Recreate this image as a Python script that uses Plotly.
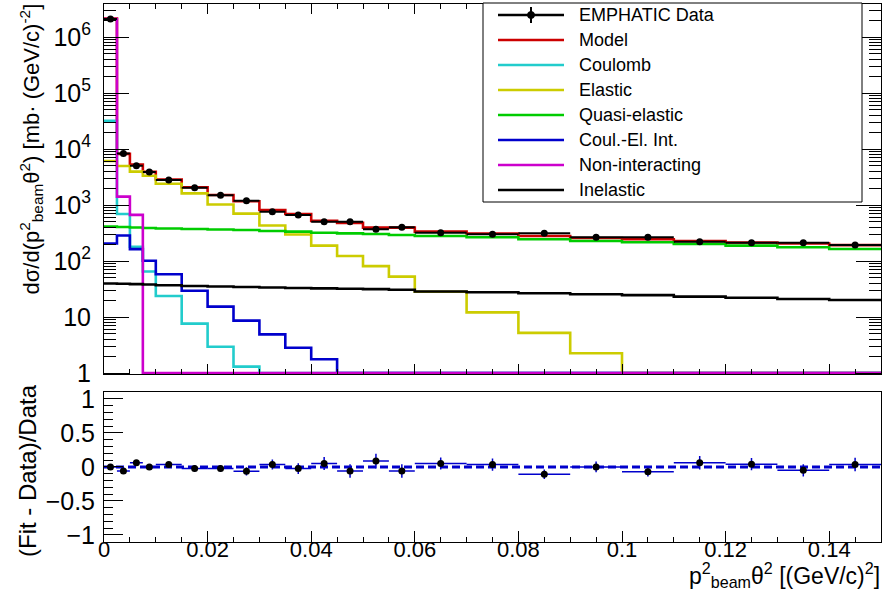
import plotly.graph_objects as go

# ---------------- data ----------------
bin_edges = [0, 0.0025, 0.005, 0.0075, 0.01, 0.015, 0.02, 0.025, 0.03, 0.035, 0.04,
             0.045, 0.05, 0.055, 0.06, 0.07, 0.08, 0.09, 0.10, 0.11, 0.12, 0.13, 0.14, 0.15]

data_vals = [2.1e6, 8300, 5000, 3900, 2800, 2040, 1500, 1190, 760, 662, 504, 504,
             368, 401, 320, 300, 312, 265, 265, 221, 212, 212, 193]
data_err = [3e4, 160, 130, 110, 90, 80, 70, 65, 55, 50, 45, 45, 38, 38, 28, 27,
            25, 22, 20, 20, 18, 18, 18]

model = [2.14e6, 8200, 5300, 3900, 2850, 2080, 1510, 1170, 815, 690, 520, 480,
         395, 395, 335, 310, 280, 258, 245, 228, 214, 205, 192]
coulomb = [32000, 690, 180, 65, 23.7, 7.6, 2.95, 1.3, 1, 1, 1, 1, 1, 1, 1, 1,
           1, 1, 1, 1, 1, 1, 1]
elastic = [6100, 4970, 3950, 3330, 2400, 1610, 1020, 700, 430, 297, 188, 123,
           81, 52.5, 28.3, 12.1, 5.2, 2.25, 1, 1, 1, 1, 1]
quasi_elastic = [413, 405, 397, 388, 380, 373, 365, 358, 344, 334, 320, 312,
                 304, 291, 280, 265, 244, 228, 216, 201, 188, 176, 164]
coul_el_int = [205, 285, 163, 101, 58, 29.5, 15.3, 8.6, 4.9, 2.83, 1.76, 1, 1,
               1, 1, 1, 1, 1, 1, 1, 1, 1, 1]
non_interacting = [2.1e6, 1410, 665, 1, 1, 1, 1, 1, 1, 1, 1, 1, 1, 1, 1, 1, 1,
                   1, 1, 1, 1, 1, 1]
inelastic = [39.7, 39.2, 38.6, 38.0, 36.8, 35.8, 35.1, 34.3, 33.6, 33.0, 32.5,
             32.0, 31.4, 30.7, 28.5, 27.6, 26.5, 25.5, 24.6, 23.1, 22.1, 21.0, 20.1]

ratio = [0.0, -0.06, 0.06, 0.0, 0.035, -0.025, -0.025, -0.065, 0.035, -0.025,
         0.05, -0.06, 0.085, -0.06, 0.05, 0.035, -0.107, 0.0, -0.073, 0.06,
         0.04, -0.05, 0.035]
ratio_err = [0.01, 0.02, 0.025, 0.03, 0.035, 0.045, 0.05, 0.06, 0.075, 0.08,
             0.095, 0.1, 0.11, 0.1, 0.09, 0.09, 0.07, 0.08, 0.07, 0.1, 0.09,
             0.09, 0.1]

series_names = ["Model", "Coulomb", "Elastic", "Quasi-elastic", "Coul.-El. Int.",
                "Non-interacting", "Inelastic"]
series_vals = [model, coulomb, elastic, quasi_elastic, coul_el_int,
               non_interacting, inelastic]
series_colors = ["#cc0000", "#22cccc", "#cccc00", "#00cc00", "#0000cc",
                 "#cc00cc", "#000000"]

y_tick_vals = [1, 10, 100, 1e3, 1e4, 1e5, 1e6]
y_tick_text = ["1", "10", "10<sup>2</sup>", "10<sup>3</sup>", "10<sup>4</sup>",
               "10<sup>5</sup>", "10<sup>6</sup>"]
x_tick_vals = [0, 0.02, 0.04, 0.06, 0.08, 0.10, 0.12, 0.14]
x_tick_text = ["0", "0.02", "0.04", "0.06", "0.08", "0.1", "0.12", "0.14"]
r_tick_vals = [-1, -0.5, 0, 0.5, 1]
r_tick_text = ["\u22121", "\u22120.5", "0", "0.5", "1"]

# ---------------- helpers ----------------
W, H = 887, 600
FONT = "Liberation Sans, Arial, Helvetica, sans-serif"


def px(x):
    return x / W


def py(y):
    return 1 - y / H


centers = [(bin_edges[i] + bin_edges[i + 1]) / 2 for i in range(len(bin_edges) - 1)]
half_w = [(bin_edges[i + 1] - bin_edges[i]) / 2 for i in range(len(bin_edges) - 1)]

fig = go.Figure()

# step histograms
for name, vals, col in zip(series_names, series_vals, series_colors):
    fig.add_trace(go.Scatter(
        x=list(bin_edges), y=list(vals) + [vals[-1]], mode="lines",
        line=dict(color=col, width=2.6, shape="hv"), name=name,
        showlegend=False, xaxis="x", yaxis="y"))

# data points
fig.add_trace(go.Scatter(
    x=centers, y=data_vals, mode="markers", name="EMPHATIC Data",
    marker=dict(color="black", size=7),
    error_x=dict(type="data", array=half_w, color="black", thickness=2, width=0),
    error_y=dict(type="data", array=data_err, color="black", thickness=2, width=0),
    showlegend=False, xaxis="x", yaxis="y"))

# ratio points
fig.add_trace(go.Scatter(
    x=centers, y=ratio, mode="markers", name="(Fit - Data)/Data",
    marker=dict(color="black", size=7),
    error_x=dict(type="data", array=half_w, color="#0000cc", thickness=1.5, width=0),
    error_y=dict(type="data", array=ratio_err, color="#0000cc", thickness=1.5, width=0),
    showlegend=False, xaxis="x2", yaxis="y2"))

shapes = [dict(type="line", xref="x2", yref="y2", x0=0, x1=0.15, y0=0, y1=0,
               line=dict(color="#0000cc", width=3, dash="8px,4px"), layer="below")]

# manual legend
lx0, lx1, ly0, ly1 = 483, 862, 3, 202
shapes.append(dict(type="rect", xref="paper", yref="paper",
                   x0=px(lx0), x1=px(lx1), y0=py(ly1), y1=py(ly0),
                   line=dict(color="black", width=1), fillcolor="white", layer="above"))
annotations = []
rows_y = [15 + 25 * i for i in range(8)]
leg_names = ["EMPHATIC Data"] + series_names
leg_colors = ["#000000"] + series_colors
for i, (nm, col) in enumerate(zip(leg_names, leg_colors)):
    yy = rows_y[i]
    shapes.append(dict(type="line", xref="paper", yref="paper",
                       x0=px(498), x1=px(564), y0=py(yy), y1=py(yy),
                       line=dict(color=col, width=2.6), layer="above"))
    annotations.append(dict(xref="paper", yref="paper", x=px(577), y=py(yy),
                            xanchor="left", yanchor="middle", showarrow=False,
                            text=nm, font=dict(family=FONT, size=18, color="black")))
# data legend marker with error bar
shapes.append(dict(type="line", xref="paper", yref="paper",
                   x0=px(531), x1=px(531), y0=py(rows_y[0] - 8), y1=py(rows_y[0] + 8),
                   line=dict(color="black", width=2), layer="above"))
shapes.append(dict(type="circle", xref="paper", yref="paper",
                   x0=px(527.5), x1=px(534.5), y0=py(rows_y[0] + 3.5), y1=py(rows_y[0] - 3.5),
                   line=dict(color="black", width=1), fillcolor="black", layer="above"))

# axis titles
annotations.append(dict(
    xref="paper", yref="paper", x=px(31), y=py(2), xanchor="center", yanchor="top",
    textangle=-90, showarrow=False,
    text="d\u03c3/d(p<sup>2</sup><sub>beam</sub>\u03b8<sup>2</sup>) [mb\u00b7 (GeV/c)<sup>-2</sup>]",
    font=dict(family=FONT, size=22, color="black")))
annotations.append(dict(
    xref="paper", yref="paper", x=px(27), y=py(471), xanchor="center", yanchor="middle",
    textangle=-90, showarrow=False, text="(Fit - Data)/Data",
    font=dict(family=FONT, size=24, color="black")))
annotations.append(dict(
    xref="paper", yref="paper", x=px(882), y=py(557), xanchor="right", yanchor="top",
    showarrow=False,
    text="p<sup>2</sup><sub>beam</sub>\u03b8<sup>2</sup> [(GeV/c)<sup>2</sup>]",
    font=dict(family=FONT, size=23, color="black")))

xtickfont = dict(family=FONT, size=22, color="black")
ytickfont = dict(family=FONT, size=25, color="black")
dom_x = [px(104), px(881)]
decade = 56.0
y_bot_log = -0.02
y_top_log = (373 - 3.5) / decade

fig.update_layout(
    width=W, height=H, margin=dict(l=0, r=0, t=0, b=0, autoexpand=False),
    paper_bgcolor="white", plot_bgcolor="white", showlegend=False,
    font=dict(family=FONT, color="black"), hovermode=False,
    xaxis=dict(domain=dom_x, anchor="y", range=[0, 0.15], showticklabels=False,
               automargin=False,
               ticks="inside", ticklen=10, tickwidth=1, tickcolor="black",
               tickvals=x_tick_vals,
               minor=dict(dtick=0.005, tick0=0, ticks="inside", ticklen=5,
                          tickcolor="black", tickwidth=1),
               showline=True, linecolor="black", linewidth=1, mirror="allticks",
               showgrid=False, zeroline=False),
    yaxis=dict(domain=[py(373 - y_bot_log * decade), py(3.5)], anchor="x",
               type="log", range=[y_bot_log, y_top_log], automargin=False,
               tickvals=y_tick_vals, ticktext=y_tick_text, tickfont=ytickfont,
               ticklabelstandoff=7,
               ticks="inside", ticklen=25, tickwidth=1, tickcolor="black",
               minor=dict(tickvals=[m * 10 ** k for k in range(0, 7) for m in range(2, 10)],
                          ticks="inside", ticklen=12, tickcolor="black", tickwidth=1),
               showline=True, linecolor="black", linewidth=1, mirror="allticks",
               showgrid=False, zeroline=False),
    xaxis2=dict(domain=dom_x, anchor="y2", range=[0, 0.15], automargin=False,
                tickvals=x_tick_vals, ticktext=x_tick_text, tickfont=xtickfont,
                ticklabelstandoff=-12,
                ticks="inside", ticklen=11, tickwidth=1, tickcolor="black",
                minor=dict(dtick=0.005, tick0=0, ticks="inside", ticklen=5,
                           tickcolor="black", tickwidth=1),
                showline=True, linecolor="black", linewidth=1, mirror=True,
                showgrid=False, zeroline=False),
    yaxis2=dict(domain=[py(541.7), py(392.1)], anchor="x2", range=[-1.1, 1.1],
                automargin=False, ticklabelstandoff=3,
                tickvals=r_tick_vals, ticktext=r_tick_text, tickfont=ytickfont,
                ticks="inside", ticklen=19, tickwidth=1, tickcolor="black",
                minor=dict(dtick=0.1, tick0=0, ticks="inside", ticklen=9,
                           tickcolor="black", tickwidth=1),
                showline=True, linecolor="black", linewidth=1, mirror=True,
                showgrid=False, zeroline=False),
    shapes=shapes, annotations=annotations,
)

fig.write_html("out.html", config={"displayModeBar": False, "staticPlot": True},
               post_script="document.body.style.margin='0px';document.body.style.overflow='hidden';")
